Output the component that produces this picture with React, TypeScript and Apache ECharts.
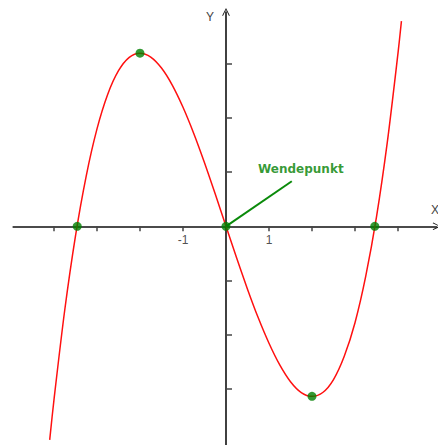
import React, { useEffect, useRef } from "react";
import * as echarts from "echarts";

// Curve f(x)
const curveX = [-4.1, -4, -3.75, -3.5, -3.25, -3, -2.75, -2.5, -2.25, -2, -1.75, -1.5, -1.25, -1, -0.75, -0.5, -0.25, 0,
  0.25, 0.5, 0.75, 1, 1.25, 1.5, 1.75, 2, 2.25, 2.5, 2.75, 3, 3.25, 3.5, 3.75, 4, 4.08];
const curveY = [-19.72, -16, -7.73, -0.875, 4.67, 9, 12.2, 14.375, 15.61, 16, 15.64, 14.625, 13.05, 11, 8.58, 5.875, 2.98, 0,
  -2.95, -5.8, -8.45, -10.8, -12.8, -14.35, -15.35, -15.7, -15.35, -14.15, -12.0, -8.9, -4.6, 0.875, 7.73, 16, 18.96];

// Marked points: roots, extrema, inflection point
const pointX = [-3.46, -2, 0, 2, 3.46];
const pointY = [0, 16, 0, -15.7, 0];

// Pointer line of the annotation
const pointerX = [0, 1.53];
const pointerY = [0, 4.17];
const annotationText = "Wendepunkt";
const annotationPos = [1.74, 5.3];

const xTicks = [-4, -3, -2, -1, 1, 2, 3, 4];
const xTickLabels = [-1, 1];
const yTicks = [-15, -10, -5, 5, 10, 15];

const chevron = "path://M0,10 L5,0 L10,10 L9,10.6 L5,2.2 L1,10.6 Z";

export default function App() {
  const ref = useRef<HTMLDivElement>(null);
  useEffect(() => {
    if (!ref.current) return;
    const chart = echarts.init(ref.current, null, { renderer: "svg" });
    const curve = curveX.map((x, i) => [x, curveY[i]]);
    const pts = pointX.map((x, i) => [x, pointY[i]]);
    const pointer = pointerX.map((x, i) => [x, pointerY[i]]);
    const tickLabelData = xTickLabels.map((v) => ({ value: [v, 0], name: String(v) }));
    chart.setOption({
      animation: false,
      backgroundColor: "#ffffff",
      grid: { left: 13.15, top: 12, width: 423.55, height: 434.1, containLabel: false, outerBoundsMode: "none" },
      xAxis: {
        type: "value",
        min: -4.95,
        max: 4.9,
        axisLine: {
          onZero: true,
          lineStyle: { color: "#111", width: 1.6 },
          symbol: ["none", chevron],
          symbolSize: [12, 8],
        },
        axisTick: { show: true, length: 5, lineStyle: { color: "#444", width: 1.5 }, customValues: xTicks },
        axisLabel: { show: false },
        splitLine: { show: false },
      },
      yAxis: {
        type: "value",
        min: -20.3,
        max: 19.8,
        axisLine: {
          onZero: true,
          lineStyle: { color: "#111", width: 1.6 },
          symbol: ["none", chevron],
          symbolSize: [14, 8],
        },
        axisTick: { show: true, inside: true, length: 6, lineStyle: { color: "#444", width: 1.5 }, customValues: yTicks },
        axisLabel: { show: false },
        splitLine: { show: false },
      },
      graphic: [
        { type: "text", left: 206, top: 11, style: { text: "Y", fontSize: 12, fill: "#444", fontFamily: "Liberation Sans" } },
        { type: "text", left: 431, top: 204, style: { text: "X", fontSize: 12, fill: "#444", fontFamily: "Liberation Sans" } },
      ],
      series: [
        {
          type: "line",
          data: curve,
          smooth: 0.3,
          symbol: "none",
          lineStyle: { color: "#ff1010", width: 1.5 },
          z: 2,
        },
        {
          type: "line",
          data: pointer,
          symbol: "none",
          lineStyle: { color: "#0a8a0a", width: 2 },
          z: 3,
        },
        {
          type: "scatter",
          data: pts,
          symbol: "circle",
          symbolSize: 9,
          itemStyle: { color: "#008000" },
          z: 4,
        },
        {
          type: "scatter",
          data: tickLabelData,
          symbolSize: 0,
          silent: true,
          label: {
            show: true,
            position: "bottom",
            distance: 8,
            formatter: "{b}",
            color: "#222",
            fontSize: 12,
            fontFamily: "Liberation Sans",
          },
          z: 5,
        },
        {
          type: "scatter",
          data: [annotationPos],
          symbolSize: 0,
          label: {
            show: true,
            position: "inside",
            formatter: annotationText,
            color: "#008000",
            fontWeight: "bold",
            fontSize: 12,
            fontFamily: "DejaVu Sans",
          },
          z: 5,
        },
      ],
    });
    return () => chart.dispose();
  }, []);
  return (
    <div
      ref={ref}
      style={{ position: "absolute", left: 0, top: 0, width: 438, height: 445, background: "#fff" }}
    />
  );
}
